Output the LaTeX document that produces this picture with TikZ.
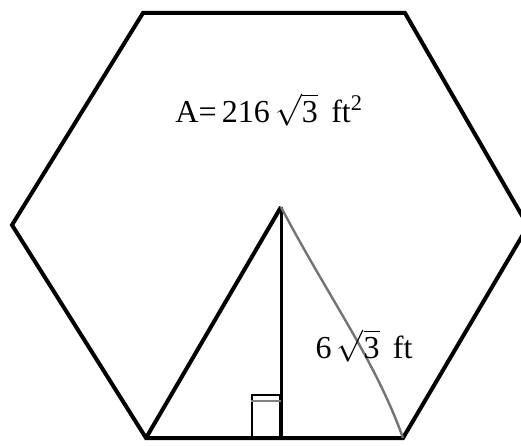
\RequirePackage{fix-cm}
\documentclass[tikz,border=0pt]{standalone}
\usepackage{amsmath}
\usepackage{fontspec}
\setmainfont{Liberation Serif}
\begin{document}
\begin{tikzpicture}[x=1pt,y=-1pt,
  edge/.style={draw=black,line width=4pt,line join=miter},
  thin/.style={draw=black,line width=3pt},
  grayedge/.style={draw=black!55,line width=2.4pt},
  lbl/.style={font=\fontsize{32}{36}\selectfont,inner sep=0pt}]
\useasboundingbox (0,0) rectangle (521,446);
\coordinate (tl) at (143,13);
\coordinate (tr) at (405,13);
\coordinate (r) at (528,226);
\coordinate (br) at (403,438);
\coordinate (bl) at (146,438);
\coordinate (l) at (12,225);
\coordinate (apex) at (281,207);
\coordinate (foot) at (281,438);
\draw[edge] (tl) -- (tr) -- (r) -- (br) -- (bl) -- (l) -- cycle;
\draw[edge] (bl) -- (apex);
\draw[thin] (apex) -- (foot);
\draw[grayedge] (apex) .. controls (330,300) and (375,360) .. (br);
\node[draw=black,line width=2.5pt,minimum width=28pt,minimum height=42pt,inner sep=0pt,anchor=south east] (sq) at (foot) {};
\draw[black!50,line width=2pt] ([yshift=-7pt]sq.north west) -- ([yshift=-7pt]sq.north east);
\node[lbl] (area) at (269,110) {A=\,216\,$\sqrt{\text{3}}$\, ft\textsuperscript{2}};
\node[lbl] (side) at (364,346) {6\,$\sqrt{\text{3}}$\, ft};
\end{tikzpicture}
\end{document}
